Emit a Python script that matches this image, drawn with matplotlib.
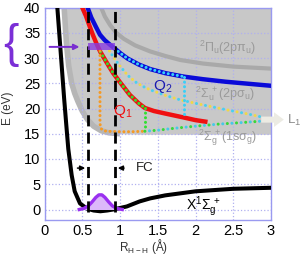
import matplotlib.pyplot as plt
from matplotlib.patches import Rectangle, FancyArrow

plt.rcParams['font.family'] = ['Liberation Sans', 'DejaVu Sans']
plt.rcParams['mathtext.default'] = 'regular'

# ===== DATA =====
# H2 ground state X1Sg+
x_R = [0.17, 0.20, 0.23, 0.26, 0.29, 0.315, 0.36, 0.40, 0.47, 0.56, 0.65, 0.74, 0.83, 0.91,
       1.09, 1.26, 1.40, 1.60, 2.00, 2.50, 3.00]
x_E = [40, 34, 28, 22, 16.5, 12, 6.8, 3.6, 1.2, 0.2, -0.2, -0.35, -0.2, 0.0,
       0.6, 1.6, 2.2, 2.8, 3.6, 4.1, 4.3]

# edge of the grey continuum
ion_R = [0.26, 0.29, 0.32, 0.36, 0.40, 0.44, 0.50, 0.57, 0.65, 0.75, 0.85, 1.00, 1.30, 2.00, 3.00]
ion_E = [40, 33, 28.5, 25, 23, 21.5, 19.5, 17.8, 16.5, 15.6, 15.2, 15.0, 14.9, 14.9, 14.9]

# 2Pi_u(2p pi_u)
pi_R = [0.75, 0.80, 0.87, 0.95, 1.05, 1.20, 1.40, 1.60, 1.80, 2.10, 2.50, 3.00]
pi_E = [40, 38.2, 36.5, 35.0, 33.8, 32.5, 31.3, 30.4, 29.6, 28.9, 28.3, 27.9]

# Q2 (blue)
blue_R = [0.57, 0.62, 0.68, 0.735, 0.80, 0.87, 0.93, 1.00, 1.10, 1.25, 1.40, 1.60, 1.85,
          2.10, 2.40, 2.70, 3.00]
blue_E = [40, 38.0, 36.2, 34.6, 33.5, 32.6, 31.9, 31.0, 29.9, 28.7, 27.8, 27.0, 26.3,
          25.8, 25.3, 24.9, 24.5]

# Q1 (red)
red_R = [0.50, 0.55, 0.60, 0.64, 0.69, 0.74, 0.80, 0.86, 0.91, 1.00, 1.13, 1.25, 1.33,
         1.45, 1.60, 1.85, 2.00, 2.13]
red_E = [40, 38.3, 36.2, 34.6, 32.8, 31.2, 29.7, 28.2, 27.0, 25.2, 22.7, 21.0, 20.1,
         19.5, 19.0, 18.2, 17.7, 17.4]

# 2Su+ dissociation branch (yellow / cyan dots)
up_R = [0.86, 0.93, 1.00, 1.10, 1.20, 1.30, 1.40, 1.60, 1.80, 2.10, 2.46, 2.70, 2.88]
up_E = [31.4, 29.8, 28.4, 26.6, 25.3, 24.4, 23.7, 22.6, 21.7, 20.7, 19.6, 18.9, 18.3]

# 2Sg+(1s sigma_g) branch: orange part, then green part
orange_R = [0.735, 0.735, 0.745, 0.77, 0.82, 0.90, 1.00, 1.15, 1.33]
orange_E = [31.4, 17.0, 16.1, 15.7, 15.5, 15.45, 15.4, 15.4, 15.5]
low_R = [1.33, 1.50, 1.73, 2.00, 2.30, 2.60, 2.88]
low_E = [15.5, 15.7, 16.1, 16.5, 16.9, 17.2, 17.5]

# vibrational wave packet
g_R = [0.46, 0.52, 0.58, 0.63, 0.68, 0.72, 0.76, 0.80, 0.85, 0.90, 0.96, 1.03]
g_E = [0.0, 0.2, 0.7, 1.5, 2.4, 2.9, 2.9, 2.4, 1.5, 0.7, 0.2, 0.0]

fc_left, fc_right = 0.576, 0.934   # Franck-Condon window
pump_E = 32.2

x_ticks = [0, 0.5, 1, 1.5, 2, 2.5, 3]
x_labels = ['0', '0.5', '1', '1.5', '2', '2.5', '3']
y_ticks = [0, 5, 10, 15, 20, 25, 30, 35, 40]

# ===== PLOT =====
fig = plt.figure(figsize=(3.0, 2.57), dpi=100)
ax = fig.add_axes([44.5 / 300, 1 - 219.6 / 257, 226.5 / 300, 212.1 / 257])
ax.set_xlim(0, 3)
ax.set_ylim(-2, 40)

ax.fill_between(ion_R, ion_E, 40, color='#c8c8c8', lw=0, zorder=1)
ax.plot(ion_R[:12], ion_E[:12], color='#b6b6b6', lw=4, zorder=1.2, solid_capstyle='butt')

ax.grid(True, color='#b0b0f0', ls=':', lw=0.9)
for s in ax.spines.values():
    s.set_color('#9a9af0')
    s.set_linewidth(1.0)

dot = dict(dash_capstyle='round', lw=2.2, zorder=4)

ax.plot(pi_R, pi_E, color='#a9a9a9', lw=3, zorder=2)
ax.plot(x_R, x_E, color='black', lw=2.9, zorder=3)
ax.plot(blue_R, blue_E, color='#0a0ad8', lw=3.2, zorder=3)
ax.plot(red_R, red_E, color='#f01010', lw=3.2, zorder=3)

# dotted overlays
ax.plot(blue_R[6:13], blue_E[6:13], color='#38d0f8', ls=(0, (0.01, 1.5)), **dot)
ax.plot(red_R[5:13], red_E[5:13], color='#30e030', ls=(0, (0.01, 1.5)), **dot)
ax.plot(up_R, up_E, color='#f0d848', ls=(0, (0.01, 3.0)), **dot)
ax.plot(up_R, up_E, color='#48d0f0', ls=(1.5, (0.01, 3.0)), **dot)
ax.plot(orange_R, orange_E, color='#f59a25', ls=(0, (0.01, 1.5)), **dot)
ax.plot(low_R, low_E, color='#38d838', ls=(0, (0.01, 3.0)), **dot)
ax.plot(low_R, low_E, color='#48c8e8', ls=(1.5, (0.01, 3.0)), **dot)
ax.plot([red_R[12], red_R[12]], [red_E[12], low_E[0]], color='#30e030', ls=(0, (0.01, 1.5)), **dot)
ax.plot([blue_R[12], blue_R[12]], [blue_E[12], red_E[15]], color='#38d0f8', ls=(0, (0.01, 1.5)), **dot)

# wave packet
ax.fill_between(g_R, g_E, 0, color='#dcb8fa', lw=0, zorder=5)
ax.plot(g_R, g_E, color='#9a30f0', lw=2.4, zorder=6)

# Franck-Condon window
for r in (fc_left, fc_right):
    ax.plot([r, r], [-0.4, 40], color='black', lw=2.0, ls=(0, (4, 2.2)), zorder=7)
ax.add_patch(Rectangle((fc_left, pump_E - 0.7), fc_right - fc_left, 1.4,
                       color='#8a3ee0', alpha=0.8, lw=0, zorder=8))
ax.annotate('', xy=(0.50, pump_E), xytext=(0.03, pump_E),
            arrowprops=dict(arrowstyle='-|>', color='#7a2ed0', lw=1.4, mutation_scale=8),
            zorder=8)
ax.annotate('', xy=(fc_left, 8.2), xytext=(0.40, 8.2),
            arrowprops=dict(arrowstyle='-|>', color='black', lw=1.1, mutation_scale=7))
ax.annotate('', xy=(fc_right, 8.2), xytext=(1.09, 8.2),
            arrowprops=dict(arrowstyle='-|>', color='black', lw=1.1, mutation_scale=7))
ax.text(1.21, 8.2, 'FC', fontsize=9.5, color='#222222', va='center', ha='left')

# L1 asymptote arrow
ax.add_patch(FancyArrow(2.87, 17.8, 0.30, 0, width=1.2, head_width=2.9, head_length=0.13,
                        length_includes_head=True, color='#ecebe3', lw=0,
                        clip_on=False, zorder=9))
ax.text(3.21, 17.6, 'L$_1$', fontsize=9.5, color='#8a8a8a', va='center', ha='left')

# labels
ax.text(1.04, 19.5, 'Q$_1$', fontsize=11, color='#f01010', ha='center', va='center', zorder=9)
ax.text(1.57, 24.3, 'Q$_2$', fontsize=11, color='#1a1ab0', ha='center', va='center', zorder=9)
gray_txt = '#9a9a9a'
ax.text(2.42, 32.0, r'$^2\Pi_u$(2p$\pi_u$)', fontsize=9, color=gray_txt, ha='center', va='center')
ax.text(2.39, 23.0, r'$^2\Sigma_u^{\,+}$(2p$\sigma_u$)', fontsize=9, color=gray_txt, ha='center', va='center')
ax.text(2.42, 14.2, r'$^2\Sigma_g^{\,+}$(1s$\sigma_g$)', fontsize=9, color=gray_txt, ha='center', va='center')
ax.text(2.11, 0.6, r'X$^1\Sigma_g^{\,+}$', fontsize=10, color='black', ha='center', va='center')

ax.set_xticks(x_ticks)
ax.set_xticklabels(x_labels)
ax.set_yticks(y_ticks)
ax.tick_params(length=0, labelsize=10.5, pad=3)

fig.text(143.5 / 300, 1 - 246 / 257, 'R$_{H-H}$ (Å)', fontsize=8.5, color='#333333',
         ha='center', va='center')
fig.text(8 / 300, 1 - 108 / 257, 'E (eV)', fontsize=8.5, color='#333333',
         rotation=90, ha='center', va='center')
fig.text(11 / 300, 1 - 45 / 257, '{', fontsize=33, color='#7b2fd6', ha='center', va='center')

plt.savefig('out.png', dpi=100)
